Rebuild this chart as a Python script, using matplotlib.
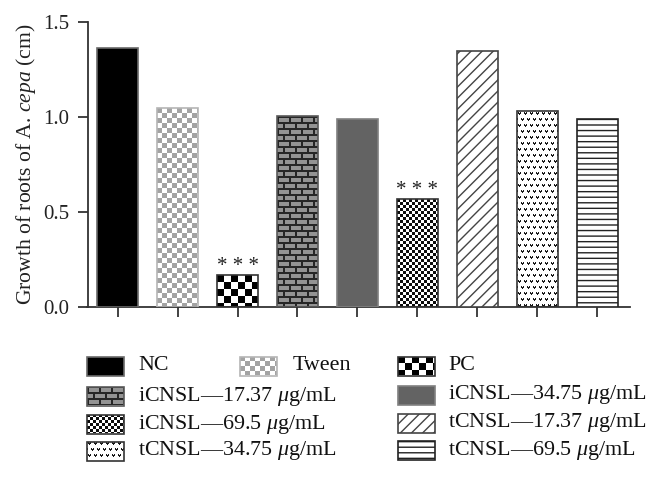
import numpy as np
import matplotlib
matplotlib.use("Agg")
import matplotlib.pyplot as plt
from matplotlib.patches import Rectangle

plt.rcParams.update(
    {
        "font.family": "Liberation Serif",
        "mathtext.fontset": "custom",
        "mathtext.rm": "Liberation Serif",
        "mathtext.it": "Liberation Serif:italic",
        "hatch.linewidth": 1.0,
    }
)

# data
groups = [
    "NC",
    "Tween",
    "PC",
    "iCNSL—17.37 $\\mu$g/mL",
    "iCNSL—34.75 $\\mu$g/mL",
    "iCNSL—69.5 $\\mu$g/mL",
    "tCNSL—17.37 $\\mu$g/mL",
    "tCNSL—34.75 $\\mu$g/mL",
    "tCNSL—69.5 $\\mu$g/mL",
]
growth = [1.36, 1.047, 0.167, 1.005, 0.99, 0.567, 1.347, 1.03, 0.99]
stars = ["", "", "***", "", "", "***", "", "", ""]

# fill of each bar: texture name, face, edge, hatch
styles = [
    dict(tex=None, face="black", edge="#6a6a6a", hatch=None),
    dict(tex="tween", face="none", edge="#b5b5b5", hatch=None),
    dict(tex="pc", face="none", edge="#333333", hatch=None),
    dict(tex="brick", face="none", edge="#5a5a5a", hatch=None),
    dict(tex=None, face="#636363", edge="#808080", hatch=None),
    dict(tex="fine", face="none", edge="#333333", hatch=None),
    dict(tex=None, face="white", edge="#444444", hatch="///"),
    dict(tex="dots", face="none", edge="#333333", hatch=None),
    dict(tex=None, face="white", edge="#222222", hatch="---"),
]

W, H = 653, 478


def texture(kind, h, w):
    """Grey-level pixel pattern of size h x w (1 = white)."""
    yy, xx = np.mgrid[0:h, 0:w]
    img = np.ones((h, w))
    if kind == "tween":
        img[((xx // 5 + yy // 5) % 2) == 0] = 0.64
    elif kind == "pc":
        img[((xx // 7 + yy // 7) % 2) == 0] = 0.0
    elif kind == "fine":
        img[((xx // 3 + yy // 3) % 2) == 0] = 0.05
    elif kind == "brick":
        img[:] = 0.58
        row = yy // 6
        img[(yy % 6) < 2] = 0.15
        img[((xx + (row % 2) * 6) % 12) < 2] = 0.15
    elif kind == "dots":
        row = yy // 6
        sx = (xx + (row % 2) * 3) % 6
        sy = yy % 6
        dark = (((sy == 1) & ((sx == 1) | (sx == 3)))
                | ((sy == 2) & (sx >= 1) & (sx <= 3))
                | ((sy == 3) & (sx == 2)))
        img[dark] = 0.1
    return img


def fill_texture(ax, patch, kind):
    bb = patch.get_window_extent()
    h = max(int(round(bb.height)), 1)
    w = max(int(round(bb.width)), 1)
    x0, y0 = patch.get_x(), patch.get_y()
    ax.imshow(
        texture(kind, h, w),
        cmap="gray",
        vmin=0,
        vmax=1,
        extent=(x0, x0 + patch.get_width(), y0, y0 + patch.get_height()),
        aspect="auto",
        interpolation="nearest",
        zorder=patch.get_zorder() - 0.5,
    )


fig = plt.figure(figsize=(W / 100, H / 100), dpi=100)
ax = fig.add_axes([87.5 / W, 1 - 306.7 / H, (630 - 87.5) / W, (306.7 - 21.7) / H])

x = np.arange(len(groups))
xlim = (-0.505, 8.55)
ylim = (0, 1.5)
ax.set_xlim(*xlim)
ax.set_ylim(*ylim)

bars = ax.bar(x, growth, width=0.683, zorder=3, linewidth=1.2)
for bar, st in zip(bars, styles):
    bar.set_facecolor(st["face"])
    bar.set_edgecolor(st["edge"])
    if st["hatch"]:
        bar.set_hatch(st["hatch"])
    if st["tex"]:
        fill_texture(ax, bar, st["tex"])

for xi, v, s in zip(x, growth, stars):
    if s:
        ax.annotate(" ".join(s), (xi, v), xytext=(0, -0.5), textcoords="offset points",
                    ha="center", va="bottom", fontsize=15, color="#222222")

ax.set_xlim(*xlim)
ax.set_ylim(*ylim)
ax.set_yticks([0.0, 0.5, 1.0, 1.5])
ax.set_yticklabels(["0.0", "0.5", "1.0", "1.5"])
ax.set_xticks(x)
ax.set_xticklabels([])
ax.tick_params(axis="both", direction="out", length=7, width=1.3, color="#333333",
               labelsize=15, pad=6, labelcolor="#222222")
for side in ["top", "right"]:
    ax.spines[side].set_visible(False)
for side in ["left", "bottom"]:
    ax.spines[side].set_color("#333333")
    ax.spines[side].set_linewidth(1.3)
ax.set_ylabel("Growth of roots of A. $\\mathit{cepa}$ (cm)", fontsize=15.6, labelpad=4,
              color="#222222")

# legend laid out by hand: (swatch x, text x, row centre y) in pixels
slots = [
    (87, 138, 366), (240, 293, 366), (398, 448, 366),
    (87, 138, 396), (398, 448, 395),
    (87, 138, 424), (398, 448, 423),
    (87, 138, 451), (398, 448, 450),
]
sw, sh = 37, 19
for label, st, (sx, tx, yc) in zip(groups, styles, slots):
    sax = fig.add_axes([sx / W, 1 - (yc + sh / 2) / H, sw / W, sh / H])
    sax.set_xlim(0, 1)
    sax.set_ylim(0, 1)
    sax.axis("off")
    rect = Rectangle((0, 0), 1, 1, facecolor=st["face"], edgecolor=st["edge"],
                     hatch=st["hatch"], linewidth=1.2, zorder=3, clip_on=False)
    sax.add_patch(rect)
    if st["tex"]:
        fill_texture(sax, rect, st["tex"])
    sax.set_xlim(0, 1)
    sax.set_ylim(0, 1)
    fig.text(tx / W, 1 - yc / H, label, va="center", ha="left", fontsize=15.8,
             color="#111111")

fig.savefig("out.png", dpi=100)
